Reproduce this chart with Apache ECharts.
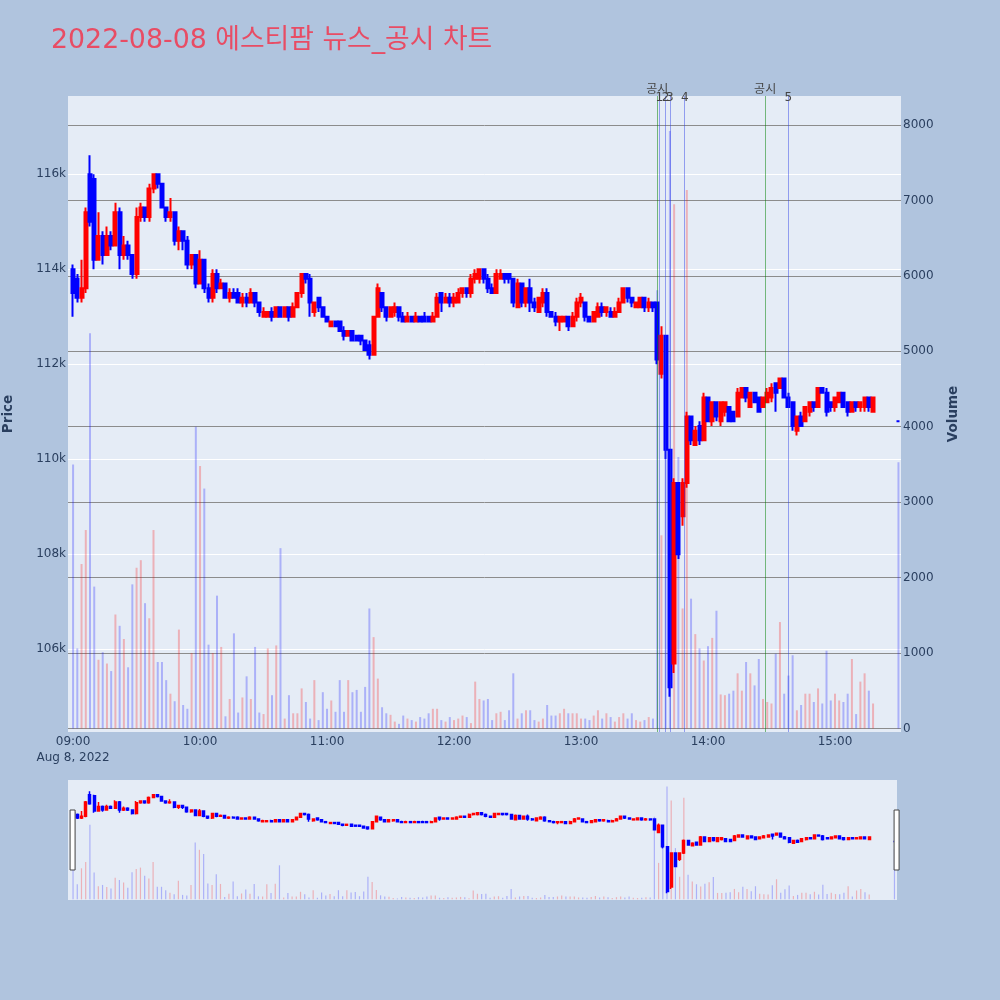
<!DOCTYPE html>
<html>
<head>
<meta charset="utf-8">
<script src="https://cdn.jsdelivr.net/npm/echarts@6/dist/echarts.min.js"></script>
<style>
html, body { margin: 0; padding: 0; background: #B0C4DE; }
#chart { width: 1000px; height: 1000px; }
</style>
</head>
<body>
<div id="chart"></div>
<script>
// 2-minute candles, 09:00 - 15:18, plus the 15:30 closing print
var times = [
  '09:00','09:02','09:04','09:06','09:08','09:10','09:12','09:14','09:16','09:18',
  '09:20','09:22','09:24','09:26','09:28','09:30','09:32','09:34','09:36','09:38',
  '09:40','09:42','09:44','09:46','09:48','09:50','09:52','09:54','09:56','09:58',
  '10:00','10:02','10:04','10:06','10:08','10:10','10:12','10:14','10:16','10:18',
  '10:20','10:22','10:24','10:26','10:28','10:30','10:32','10:34','10:36','10:38',
  '10:40','10:42','10:44','10:46','10:48','10:50','10:52','10:54','10:56','10:58',
  '11:00','11:02','11:04','11:06','11:08','11:10','11:12','11:14','11:16','11:18',
  '11:20','11:22','11:24','11:26','11:28','11:30','11:32','11:34','11:36','11:38',
  '11:40','11:42','11:44','11:46','11:48','11:50','11:52','11:54','11:56','11:58',
  '12:00','12:02','12:04','12:06','12:08','12:10','12:12','12:14','12:16','12:18',
  '12:20','12:22','12:24','12:26','12:28','12:30','12:32','12:34','12:36','12:38',
  '12:40','12:42','12:44','12:46','12:48','12:50','12:52','12:54','12:56','12:58',
  '13:00','13:02','13:04','13:06','13:08','13:10','13:12','13:14','13:16','13:18',
  '13:20','13:22','13:24','13:26','13:28','13:30','13:32','13:34','13:36','13:38',
  '13:40','13:42','13:44','13:46','13:48','13:50','13:52','13:54','13:56','13:58',
  '14:00','14:02','14:04','14:06','14:08','14:10','14:12','14:14','14:16','14:18',
  '14:20','14:22','14:24','14:26','14:28','14:30','14:32','14:34','14:36','14:38',
  '14:40','14:42','14:44','14:46','14:48','14:50','14:52','14:54','14:56','14:58',
  '15:00','15:02','15:04','15:06','15:08','15:10','15:12','15:14','15:16','15:18',
  '15:30'
];

var opens = [
  114000,113800,113400,113600,116000,115900,114200,114700,114300,114700,
  114500,115200,114300,114500,114300,113900,115100,115300,115100,115700,
  116000,115800,115300,115100,115200,114600,114800,114600,114100,114300,
  113700,114200,113600,113400,113900,113600,113700,113400,113500,113500,
  113300,113400,113300,113500,113300,113000,113000,113100,113000,113200,
  113000,113200,113000,113200,113500,113900,113800,113100,113400,113200,
  113000,112800,112900,112900,112700,112600,112700,112600,112600,112500,
  112400,112200,113000,113500,113200,113000,113100,113200,113000,112900,
  113000,112900,113000,113000,113000,112900,113000,113500,113300,113400,
  113300,113300,113500,113600,113500,113800,113800,114000,113800,113600,
  113500,113800,113900,113900,113800,113200,113700,113300,113600,113300,
  113100,113300,113500,113100,113000,112900,112900,113000,112800,113000,
  113300,113300,113000,112900,113000,113200,113100,113100,113000,113100,
  113300,113600,113400,113200,113200,113400,113200,113300,113300,111800,
  112600,110200,105700,109500,108800,109500,110900,110300,110700,110400,
  111300,110800,111200,110800,111000,111100,111000,110900,111300,111500,
  111100,111400,111300,111100,111200,111300,111600,111500,111700,111300,
  111200,110600,110900,110800,111000,111200,111100,111500,111400,111200,
  111100,111200,111400,111200,111000,111200,111100,111100,111300,111000,
  110800
];

var closes = [
  113500,113400,113600,115200,115000,114200,114700,114300,114700,114500,
  115200,114300,114500,114300,113900,115100,115300,115100,115700,116000,
  115800,115300,115100,115200,114600,114800,114600,114100,114300,113700,
  114200,113600,113400,113900,113600,113700,113400,113500,113400,113300,
  113400,113300,113500,113300,113100,113100,113100,113000,113200,113000,
  113200,113000,113200,113500,113900,113800,113300,113300,113200,113000,
  112900,112900,112800,112700,112600,112700,112500,112500,112500,112300,
  112200,113000,113600,113200,113000,113200,113200,113000,112900,113000,
  112900,113000,112900,112900,112900,113000,113400,113300,113400,113300,
  113400,113500,113600,113500,113800,113900,114000,113800,113600,113500,
  113900,113900,113800,113800,113300,113700,113300,113600,113300,113200,
  113400,113500,113100,113000,112900,113000,113000,112800,113000,113300,
  113400,113000,112900,113100,113200,113100,113200,113000,113100,113300,
  113600,113400,113300,113300,113400,113200,113300,113200,112100,112600,
  110200,105200,109500,108000,109500,110900,110400,110600,110400,111300,
  110800,111200,110900,111200,111200,110800,110800,111400,111500,111300,
  111400,111200,111000,111300,111400,111500,111400,111700,111300,111100,
  110700,110900,110700,111100,111200,111100,111500,111400,111000,111100,
  111300,111400,111100,111000,111200,111100,111200,111300,111100,111300,
  110800
];

var lows = [
  113000,113300,113300,113500,114900,114000,114200,114100,114300,114400,
  114500,114000,114200,114200,113800,113800,115000,115000,115000,115600,
  115700,115300,115000,115000,114500,114400,114400,114000,114000,113600,
  113700,113500,113300,113300,113500,113600,113400,113300,113400,113300,
  113200,113200,113300,113200,113000,113000,113000,112900,113000,113000,
  113000,112900,113000,113200,113400,113700,113000,113000,113100,113000,
  112900,112800,112800,112700,112500,112600,112500,112500,112400,112300,
  112100,112200,113000,113100,112900,113000,113000,112900,112900,112900,
  112900,112900,112900,112900,112900,112900,113000,113100,113300,113200,
  113200,113300,113400,113400,113400,113700,113700,113700,113500,113500,
  113500,113800,113700,113700,113200,113200,113200,113200,113100,113100,
  113100,113200,113000,113000,112800,112700,112900,112700,112800,112900,
  113200,112900,112900,112900,113000,113000,113000,113000,113000,113100,
  113300,113300,113200,113200,113200,113100,113100,113100,112000,111700,
  110000,105000,105500,107900,108600,109400,110300,110300,110300,110400,
  110800,110700,110800,110700,110900,110800,110800,110900,111300,111200,
  111100,111200,111000,111100,111200,111200,111000,111500,111300,111100,
  110600,110500,110700,110800,110900,111000,111100,111400,110900,111000,
  111000,111200,111100,110900,111000,111000,111000,111000,111000,111000,
  110800
];

var highs = [
  114100,113900,114200,115300,116400,116000,115200,114800,114900,114800,
  115400,115300,114700,114600,114300,115300,115400,115300,115800,116000,
  116000,115800,115300,115500,115200,114900,114800,114700,114300,114300,
  114400,114200,113700,114000,114000,113800,113700,113600,113600,113600,
  113500,113500,113600,113500,113300,113200,113100,113200,113200,113200,
  113200,113200,113300,113500,113900,113900,113900,113300,113400,113200,
  113000,112900,112900,112900,112800,112700,112700,112600,112600,112500,
  112500,113000,113700,113500,113200,113200,113300,113200,113100,113100,
  113000,113100,113000,113100,113000,113100,113500,113500,113500,113500,
  113500,113600,113600,113600,113900,114000,114000,114000,113900,113700,
  114000,114000,113900,113900,113800,113800,113700,113600,113800,113400,
  113400,113600,113600,113100,113100,113000,113000,113000,113100,113400,
  113500,113300,113000,113100,113300,113300,113200,113200,113200,113400,
  113600,113600,113400,113300,113400,113400,113400,113300,113300,112800,
  112600,110200,109600,109500,109600,111000,110900,110700,110800,111400,
  111300,111200,111200,111200,111200,111100,111000,111500,111500,111500,
  111400,111400,111300,111300,111500,111600,111600,111700,111700,111400,
  111200,110900,111000,111100,111200,111200,111500,111500,111500,111200,
  111300,111400,111400,111200,111200,111200,111200,111300,111300,111300,
  110800
];

var volumes = [
  3500,1060,2180,2630,5240,1880,910,1010,860,760,
  1510,1360,1185,810,1910,2130,2230,1660,1460,2630,
  880,880,640,460,360,1310,310,260,1000,4000,
  3480,3180,1110,1000,1760,1080,160,390,1260,210,
  410,690,390,1080,210,190,1060,440,1100,2390,
  130,440,200,200,530,350,130,640,110,480,
  260,370,220,640,220,640,480,510,220,550,
  1590,1210,660,280,200,180,90,60,170,130,
  110,90,150,130,200,260,260,110,90,150,
  110,130,170,150,70,620,390,370,390,110,
  200,220,110,240,730,130,200,240,240,110,
  90,130,310,170,170,200,260,200,200,200,
  130,130,110,170,240,130,200,150,90,150,
  200,130,200,110,90,110,150,130,5810,2560,
  3560,7920,6950,3600,1590,7140,1720,1250,1060,900,
  1090,1200,1560,450,440,460,500,730,500,880,
  730,570,920,390,350,330,990,1410,460,700,
  970,240,310,460,460,350,530,330,1030,370,
  460,370,350,460,920,190,620,730,500,330,
  3530
];

// news / disclosure markers
var eventTimes = ['13:36', '13:37', '13:40', '13:42', '13:49', '14:27', '14:38'];
var eventLabels = ['공시', '1', '2', '3', '4', '공시', '5'];

var UP = '#FF0000', DOWN = '#0000FF';
var FONT = 'DejaVu Sans, Noto Sans CJK KR, sans-serif';
var INK = '#2a3f5f';

function toMinutes(t) {
  var p = t.split(':');
  return (+p[0]) * 60 + (+p[1]) - 540;
}
function fmtTime(m) {
  var t = Math.round(m) + 540, h = Math.floor(t / 60), mm = t % 60;
  return (h < 10 ? '0' : '') + h + ':' + (mm < 10 ? '0' : '') + mm;
}

var xs = times.map(toMinutes);
var candleData = xs.map(function (x, i) { return [x, opens[i], closes[i], lows[i], highs[i]]; });
var volumeData = xs.map(function (x, i) {
  var up = closes[i] > opens[i] || (closes[i] === opens[i] && i > 0 && closes[i] >= closes[i - 1]);
  return { value: [x, volumes[i]], itemStyle: { color: up ? 'rgba(255,0,0,0.25)' : 'rgba(0,0,255,0.25)' } };
});

var eventLines = eventTimes.map(function (t, i) {
  var isNews = eventLabels[i] === '공시';
  return {
    xAxis: toMinutes(t),
    name: eventLabels[i],
    lineStyle: { color: isNews ? 'rgba(0,128,0,0.5)' : 'rgba(40,60,230,0.45)', type: 'solid', width: 1 },
    label: { show: true, position: 'end', formatter: '{b}', distance: isNews ? 0 : -8,
             color: '#444', fontSize: 12, fontFamily: FONT }
  };
});

var chart = echarts.init(document.getElementById('chart'));

var option = {
  backgroundColor: '#B0C4DE',
  animation: false,
  title: {
    text: '2022-08-08 에스티팜 뉴스_공시 차트',
    left: 51, top: 28, padding: 0,
    textStyle: { color: '#E84C64', fontSize: 26.8, fontWeight: 'normal', fontFamily: FONT }
  },
  grid: [
    { left: 68, top: 96, width: 833, height: 636, show: true, backgroundColor: '#E5ECF6', borderWidth: 0, outerBoundsMode: 'none' },
    { left: 68, top: 780, width: 829, height: 120, show: true, backgroundColor: '#E5ECF6', borderWidth: 0, outerBoundsMode: 'none' }
  ],
  xAxis: [
    {
      type: 'value', gridIndex: 0, min: -2.4, max: 391.2,
      minInterval: 60, maxInterval: 60, splitNumber: 7,
      axisLine: { show: false }, axisTick: { show: false }, splitLine: { show: false },
      axisLabel: {
        showMinLabel: false, showMaxLabel: false, margin: 2, lineHeight: 16,
        color: INK, fontSize: 12, fontFamily: FONT,
        formatter: function (v) { return v === 0 ? '09:00\nAug 8, 2022' : fmtTime(v); }
      }
    },
    { type: 'value', gridIndex: 1, min: -2.4, max: 391.2, show: false }
  ],
  yAxis: [
    {
      type: 'value', gridIndex: 0, position: 'left',
      min: 104259, max: 117648, minInterval: 2000, maxInterval: 2000, splitNumber: 7,
      name: 'Price', nameLocation: 'middle', nameGap: 53, nameRotate: 90,
      nameTextStyle: { color: INK, fontSize: 13.5, fontWeight: 'bold', fontFamily: FONT },
      axisLine: { show: false }, axisTick: { show: false },
      splitLine: { show: true, showMinLine: false, showMaxLine: false, lineStyle: { color: '#ffffff', width: 1 } },
      axisLabel: {
        showMinLabel: false, showMaxLabel: false, margin: 2,
        color: INK, fontSize: 12, fontFamily: FONT,
        formatter: function (v) { return (v / 1000) + 'k'; }
      }
    },
    {
      type: 'value', gridIndex: 0, position: 'right',
      min: -48, max: 8385, minInterval: 1000, maxInterval: 1000, splitNumber: 8,
      name: 'Volume', nameLocation: 'middle', nameGap: 46, nameRotate: 90,
      nameTextStyle: { color: INK, fontSize: 13.5, fontWeight: 'bold', fontFamily: FONT },
      axisLine: { show: false }, axisTick: { show: false },
      splitLine: { show: true, showMinLine: false, showMaxLine: false, lineStyle: { color: '#8c8c8c', width: 1 } },
      axisLabel: {
        showMinLabel: false, showMaxLabel: false, margin: 2,
        color: INK, fontSize: 12, fontFamily: FONT,
        formatter: function (v) { return String(Math.round(v)); }
      }
    },
    { type: 'value', gridIndex: 1, min: 104259, max: 117648, show: false },
    { type: 'value', gridIndex: 1, min: -48, max: 8385, show: false }
  ],
  dataZoom: [{
    type: 'slider', xAxisIndex: [0, 1], filterMode: 'none', start: 0, end: 100,
    left: 71, width: 826, top: 780, height: 120,
    showDataShadow: false, showDetail: false, brushSelect: false, realtime: false,
    backgroundColor: 'rgba(0,0,0,0)', borderColor: 'rgba(0,0,0,0)', fillerColor: 'rgba(0,0,0,0)',
    handleIcon: 'path://M0,0H5V60H0Z', handleSize: '50%',
    handleStyle: { color: '#ffffff', borderColor: '#444444', borderWidth: 1 },
    moveHandleSize: 0
  }],
  series: [
    {
      name: 'Volume', type: 'bar', xAxisIndex: 0, yAxisIndex: 1,
      data: volumeData, barWidth: 2, z: 2
    },
    {
      name: 'Price', type: 'candlestick', xAxisIndex: 0, yAxisIndex: 0,
      data: candleData, encode: { x: 0, y: [1, 2, 3, 4] },
      barWidth: 3.5, z: 3,
      itemStyle: { color: UP, color0: DOWN, borderColor: UP, borderColor0: DOWN, borderWidth: 2 },
      markLine: { symbol: ['none', 'none'], silent: true, animation: false, data: eventLines }
    },
    {
      name: 'Volume mini', type: 'bar', xAxisIndex: 1, yAxisIndex: 3,
      data: volumeData, barWidth: 1.2, z: 2
    },
    {
      name: 'Price mini', type: 'candlestick', xAxisIndex: 1, yAxisIndex: 2,
      data: candleData, encode: { x: 0, y: [1, 2, 3, 4] },
      barWidth: 2.5, z: 3,
      itemStyle: { color: UP, color0: DOWN, borderColor: UP, borderColor0: DOWN, borderWidth: 1.5 }
    }
  ]
};

chart.setOption(option);
</script>
</body>
</html>
